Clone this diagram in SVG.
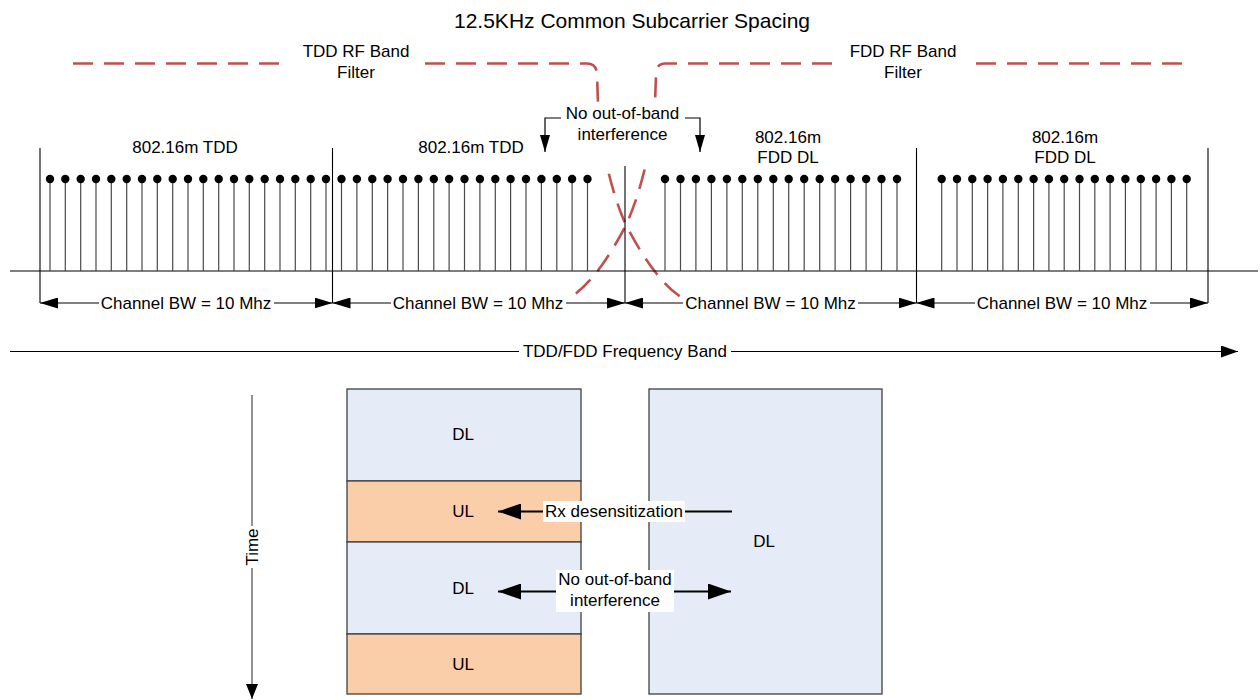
<svg xmlns="http://www.w3.org/2000/svg" xmlns:xlink="http://www.w3.org/1999/xlink" width="1260" height="700" viewBox="0 0 1260 700">
<style>
text{font-family:"Liberation Sans",Arial,sans-serif;font-size:17px;fill:#000;text-anchor:middle}
.title{font-size:21px}
.ax{stroke:#000;stroke-width:1.2;fill:none}
.bd{stroke:#000;stroke-width:1.1;fill:none}
.stem{stroke:#4a4a4a;stroke-width:1.2}
.red{stroke:#c0504d;stroke-width:2.6;fill:none;stroke-dasharray:20 11}
.bg{fill:#fff;stroke:none}
.dl{fill:#e6ecf7;stroke:#404040;stroke-width:1.3}
.ul{fill:#facea9;stroke:#404040;stroke-width:1.3}
.arr{stroke:#000;stroke-width:1.2;fill:none}
.thick{stroke:#000;stroke-width:2.2;fill:none}
</style>
<defs>
<marker id="ah" viewBox="0 0 18 11" refX="18" refY="5.5" markerWidth="18" markerHeight="11" markerUnits="userSpaceOnUse" orient="auto-start-reverse"><path d="M0,0 L18,5.5 L0,11 z" fill="#000"/></marker>
<marker id="ahs" viewBox="0 0 17 10" refX="17" refY="5" markerWidth="17" markerHeight="10" markerUnits="userSpaceOnUse" orient="auto-start-reverse"><path d="M0,0 L17,5 L0,10 z" fill="#000"/></marker>
<marker id="ahf" viewBox="0 0 17 12" refX="17" refY="6" markerWidth="17" markerHeight="12" markerUnits="userSpaceOnUse" orient="auto-start-reverse"><path d="M0,0 L17,6 L0,12 z" fill="#000"/></marker>
<marker id="ahb" viewBox="0 0 23 16" refX="23" refY="8" markerWidth="23" markerHeight="16" markerUnits="userSpaceOnUse" orient="auto-start-reverse"><path d="M0,0 L23,8 L0,16 z" fill="#000"/></marker>
<marker id="aht" viewBox="0 0 15 12" refX="15" refY="6" markerWidth="15" markerHeight="12" markerUnits="userSpaceOnUse" orient="auto-start-reverse"><path d="M0,0 L15,6 L0,12 z" fill="#000"/></marker>
<g id="sc"><line class="stem" x1="0" y1="0" x2="0" y2="92"/><circle cx="0" cy="0" r="4.2" fill="#000"/></g>
</defs>
<rect width="1260" height="700" fill="#fff"/>

<g id="title"><text class="title" x="632" y="28">12.5KHz Common Subcarrier Spacing</text></g>

<g id="filters">
<path class="red" d="M73,63.5 H282"/>
<path class="red" d="M425,63.5 H587 Q597,63.5 597,75 L598,103 C600,140 610,190 626,225 C642,256 662,286 684,299"/>
<path class="red" d="M1182,63.5 H975"/>
<path class="red" d="M832,63.5 H665 Q656,63.5 656,75 L655,103 C653,140 642,190 626,225 C610,256 590,286 568,299"/>
<text x="356" y="57">TDD RF Band</text><text x="356" y="78">Filter</text>
<text x="903" y="57">FDD RF Band</text><text x="903" y="78">Filter</text>
</g>

<g id="axis">
<line class="ax" x1="10" y1="271" x2="1258" y2="271"/>
<line class="bd" x1="40" y1="148" x2="40" y2="303"/>
<line class="bd" x1="332.5" y1="148" x2="332.5" y2="303"/>
<line class="bd" x1="625" y1="150" x2="625" y2="303"/>
<line class="bd" x1="916.5" y1="148" x2="916.5" y2="303"/>
<line class="bd" x1="1208" y1="148" x2="1208" y2="303"/>
</g>

<g id="subcarriers">
<use href="#sc" x="50" y="179"/><use href="#sc" x="65.3" y="179"/><use href="#sc" x="80.7" y="179"/><use href="#sc" x="96" y="179"/><use href="#sc" x="111.3" y="179"/><use href="#sc" x="126.7" y="179"/><use href="#sc" x="142" y="179"/><use href="#sc" x="157.3" y="179"/><use href="#sc" x="172.7" y="179"/><use href="#sc" x="188" y="179"/><use href="#sc" x="203.3" y="179"/><use href="#sc" x="218.7" y="179"/><use href="#sc" x="234" y="179"/><use href="#sc" x="249.3" y="179"/><use href="#sc" x="264.7" y="179"/><use href="#sc" x="280" y="179"/><use href="#sc" x="295.3" y="179"/><use href="#sc" x="310.7" y="179"/><use href="#sc" x="326" y="179"/>
<use href="#sc" x="341.5" y="179"/><use href="#sc" x="356.9" y="179"/><use href="#sc" x="372.3" y="179"/><use href="#sc" x="387.6" y="179"/><use href="#sc" x="403" y="179"/><use href="#sc" x="418.4" y="179"/><use href="#sc" x="433.8" y="179"/><use href="#sc" x="449.1" y="179"/><use href="#sc" x="464.5" y="179"/><use href="#sc" x="479.9" y="179"/><use href="#sc" x="495.3" y="179"/><use href="#sc" x="510.6" y="179"/><use href="#sc" x="526" y="179"/><use href="#sc" x="541.4" y="179"/><use href="#sc" x="556.8" y="179"/><use href="#sc" x="572.1" y="179"/><use href="#sc" x="587.5" y="179"/>
<use href="#sc" x="665" y="179"/><use href="#sc" x="680.5" y="179"/><use href="#sc" x="695.9" y="179"/><use href="#sc" x="711.4" y="179"/><use href="#sc" x="726.9" y="179"/><use href="#sc" x="742.3" y="179"/><use href="#sc" x="757.8" y="179"/><use href="#sc" x="773.3" y="179"/><use href="#sc" x="788.7" y="179"/><use href="#sc" x="804.2" y="179"/><use href="#sc" x="819.7" y="179"/><use href="#sc" x="835.1" y="179"/><use href="#sc" x="850.6" y="179"/><use href="#sc" x="866.1" y="179"/><use href="#sc" x="881.5" y="179"/><use href="#sc" x="897" y="179"/>
<use href="#sc" x="941.7" y="179"/><use href="#sc" x="957" y="179"/><use href="#sc" x="972.3" y="179"/><use href="#sc" x="987.6" y="179"/><use href="#sc" x="1002.9" y="179"/><use href="#sc" x="1018.3" y="179"/><use href="#sc" x="1033.6" y="179"/><use href="#sc" x="1048.9" y="179"/><use href="#sc" x="1064.2" y="179"/><use href="#sc" x="1079.5" y="179"/><use href="#sc" x="1094.8" y="179"/><use href="#sc" x="1110.1" y="179"/><use href="#sc" x="1125.4" y="179"/><use href="#sc" x="1140.8" y="179"/><use href="#sc" x="1156.1" y="179"/><use href="#sc" x="1171.4" y="179"/><use href="#sc" x="1186.7" y="179"/>
</g>

<g id="channel-labels">
<text x="185" y="153">802.16m TDD</text>
<text x="471" y="153">802.16m TDD</text>
<text x="788" y="143">802.16m</text><text x="788" y="163">FDD DL</text>
<text x="1065" y="143">802.16m</text><text x="1065" y="163">FDD DL</text>
</g>

<g id="connectors">
<line class="arr" x1="40" y1="303" x2="332.5" y2="303" marker-start="url(#ah)" marker-end="url(#ah)"/>
<line class="arr" x1="332.5" y1="303" x2="625" y2="303" marker-start="url(#ah)" marker-end="url(#ah)"/>
<line class="arr" x1="625" y1="303" x2="916.5" y2="303" marker-start="url(#ah)" marker-end="url(#ah)"/>
<line class="arr" x1="916.5" y1="303" x2="1208" y2="303" marker-start="url(#ah)" marker-end="url(#ah)"/>
<path class="arr" d="M565,118 H545 V152" marker-end="url(#ahs)"/>
<path class="arr" d="M680,118 H700 V152" marker-end="url(#ahs)"/>
<line class="arr" x1="10" y1="351.5" x2="1238" y2="351.5" marker-end="url(#ahf)"/>
<line x1="252" y1="395" x2="252" y2="699" stroke="#595959" stroke-width="1.3" marker-end="url(#aht)"/>
</g>

<g id="oob-top">
<rect class="bg" x="561" y="102" width="124" height="64"/>
<text x="622.5" y="119">No out-of-band</text>
<text x="622.5" y="140">interference</text>
</g>

<g id="bw-labels">
<rect class="bg" x="99" y="294" width="175" height="17"/><text x="186" y="309">Channel BW = 10 Mhz</text>
<rect class="bg" x="391" y="294" width="175" height="17"/><text x="478" y="309">Channel BW = 10 Mhz</text>
<rect class="bg" x="683" y="294" width="175" height="17"/><text x="770.5" y="309">Channel BW = 10 Mhz</text>
<rect class="bg" x="975" y="294" width="175" height="17"/><text x="1062" y="309">Channel BW = 10 Mhz</text>
</g>

<g id="freq-label"><rect class="bg" x="519" y="343" width="212" height="17"/><text x="625" y="357">TDD/FDD Frequency Band</text></g>

<g id="time-label"><rect class="bg" x="244" y="526" width="16" height="42"/><text transform="translate(258,547) rotate(-90)">Time</text></g>

<g id="tdd-frame">
<rect class="dl" x="347" y="389" width="234" height="92"/>
<rect class="ul" x="347" y="481" width="234" height="61"/>
<rect class="dl" x="347" y="542" width="234" height="92"/>
<rect class="ul" x="347" y="634" width="234" height="60"/>
<text x="463" y="440">DL</text>
<text x="463" y="517">UL</text>
<text x="463" y="594">DL</text>
<text x="463" y="670">UL</text>
</g>

<g id="fdd-frame">
<rect class="dl" x="649" y="389" width="233" height="305"/>
<text x="764" y="547">DL</text>
</g>

<g id="interference-arrows">
<line class="thick" x1="732" y1="511.5" x2="498" y2="511.5" marker-end="url(#ahb)"/>
<rect class="bg" x="543" y="501" width="142" height="21"/>
<text x="614" y="517">Rx desensitization</text>
<line class="thick" x1="498" y1="591.5" x2="731" y2="591.5" marker-start="url(#ahb)" marker-end="url(#ahb)"/>
<rect class="bg" x="556" y="570" width="118" height="42"/>
<text x="615" y="585">No out-of-band</text>
<text x="615" y="606">interference</text>
</g>
</svg>
